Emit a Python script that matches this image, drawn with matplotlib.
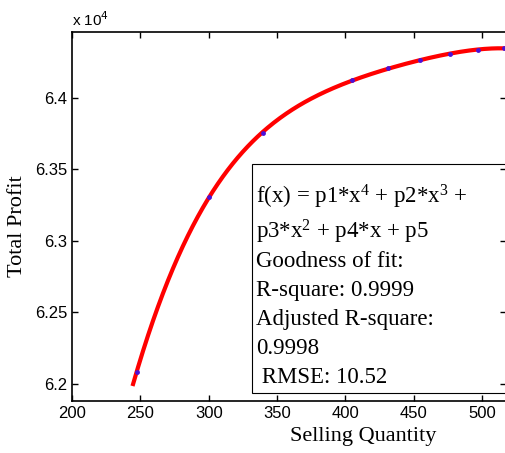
import numpy as np
import matplotlib
matplotlib.use('Agg')
import matplotlib.pyplot as plt
from matplotlib.patches import Rectangle
from matplotlib.ticker import FuncFormatter

# data points (blue dots)
quantity = [247.4, 300, 340, 404.7, 431, 454.8, 476.7, 497, 515.7]
profit = [62086, 63306, 63757, 64121, 64205, 64266, 64308, 64331, 64350]

x_ticks = [200, 250, 300, 350, 400, 450, 500]
y_ticks = [62000, 62500, 63000, 63500, 64000]
fit_lines = [
    'f(x) = p1*x$^4$ + p2*x$^3$ +',
    'p3*x$^2$ + p4*x + p5',
    'Goodness of fit:',
    'R-square: 0.9999',
    'Adjusted R-square:',
    '0.9998',
    ' RMSE: 10.52',
]

plt.rcParams['font.family'] = 'Liberation Sans'
plt.rcParams['mathtext.fontset'] = 'custom'
plt.rcParams['mathtext.rm'] = 'Liberation Serif'
plt.rcParams['mathtext.it'] = 'Liberation Serif:italic'

W, H = 505, 453
fig = plt.figure(figsize=(W / 100, H / 100), dpi=100)
ax = fig.add_axes([72 / W, 1 - 401 / H, 434 / W, 369 / H])

# 4th degree polynomial fit, as in the chart
coef = np.polyfit(quantity, profit, 4)
xs = np.linspace(244.7, 517, 300)
ax.plot(xs, np.polyval(coef, xs), color='red', lw=3, zorder=2)
ax.plot(quantity, profit, 'o', color='#4a10d8', ms=3.5, mew=0, zorder=3)

ax.set_xlim(200, 517.5)
ax.set_ylim(61880, 64460)
ax.set_xticks(x_ticks)
ax.set_yticks(y_ticks)
ax.yaxis.set_major_formatter(FuncFormatter(lambda v, p: '%g' % (v / 1e4)))
ax.tick_params(direction='in', length=4, width=1, labelsize=12,
               top=True, right=True)
for s in ax.spines.values():
    s.set_linewidth(1.2)
ax.xaxis.set_zorder(8)
ax.yaxis.set_zorder(8)

fig.text(72 / W, 1 - 20 / H, 'x 10$^{4}$', fontsize=11, va='center',
         family='Liberation Sans', math_fontfamily='dejavusans')
fig.text(18 / W, 1 - 226 / H, 'Total Profit', rotation=90, fontsize=16,
         family='Liberation Serif', ha='center', va='center')
fig.text(363 / W, 1 - 437 / H, 'Selling Quantity', fontsize=16,
         family='Liberation Serif', ha='center', va='center')

# goodness-of-fit box
box = Rectangle((252 / W, 1 - 393 / H), 260 / W, 229 / H,
                transform=fig.transFigure, facecolor='white',
                edgecolor='black', lw=0.8, zorder=5, clip_on=False)
ax.add_patch(box)
baselines = [203, 238, 267, 296, 325, 354, 383]
for line, yb in zip(fit_lines, baselines):
    ax.text(256 / W, 1 - yb / H, line, fontsize=16.5, transform=fig.transFigure,
            family='Liberation Serif', va='baseline', zorder=6, clip_on=False)

fig.savefig('out.png', dpi=100)
